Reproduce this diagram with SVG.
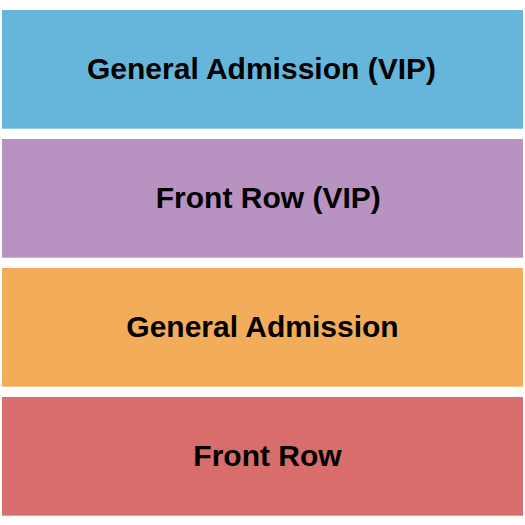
<svg xmlns="http://www.w3.org/2000/svg" width="525" height="525" viewBox="0 0 525 525">
<style>
.lbl{font-family:"Liberation Sans",Arial,sans-serif;font-weight:bold;font-size:30px;fill:#000;text-anchor:middle}
</style>
<rect width="525" height="525" fill="#ffffff"/>
<g id="ga-vip">
<rect x="2" y="10" width="521" height="118.7" fill="#66b6dc"/>
<text class="lbl" x="261.5" y="79.3">General Admission (VIP)</text>
</g>
<g id="front-row-vip">
<rect x="2" y="139" width="521" height="118.7" fill="#b892c0"/>
<text class="lbl" x="268.3" y="208.3">Front Row (VIP)</text>
</g>
<g id="general-admission">
<rect x="2" y="268" width="521" height="118.7" fill="#f3ad5a"/>
<text class="lbl" x="262.5" y="337.3">General Admission</text>
</g>
<g id="front-row">
<rect x="2" y="397" width="521" height="118.7" fill="#d96d6c"/>
<text class="lbl" x="267.5" y="465.5">Front Row</text>
</g>
<g id="connectors"></g>
</svg>
